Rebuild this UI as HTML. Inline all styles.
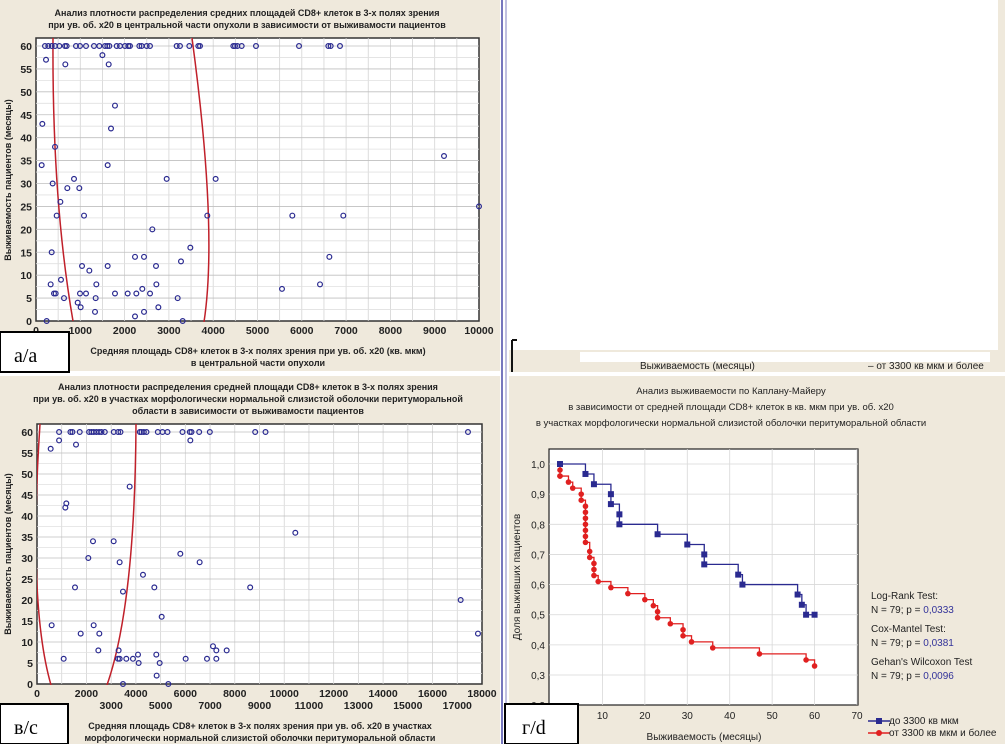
<!DOCTYPE html>
<html><head><meta charset="utf-8">
<style>
html,body{margin:0;padding:0;background:#fff;}
svg{display:block;font-family:"Liberation Sans","DejaVu Sans",sans-serif;}
.t{font-size:9px;font-weight:bold;fill:#222;}
.tk{font-size:10.5px;font-weight:bold;fill:#222;}
.km{font-size:10px;fill:#222;}
.kmt{font-size:9.5px;fill:#222;}
</style></head>
<body>
<svg id="fig" width="1005" height="744" viewBox="0 0 1005 744">
  <rect x="0" y="0" width="500" height="371" fill="#efe9dc"/>
  <rect x="0" y="376" width="500" height="368" fill="#efe9dc"/>
  <rect x="509" y="376" width="496" height="368" fill="#efe9dc"/>
  <rect x="509" y="0" width="496" height="372" fill="#fff"/>
  <rect x="998" y="0" width="7" height="372" fill="#efe9dc"/>
  <rect x="509" y="350" width="496" height="22" fill="#efe9dc"/>
  <rect x="580" y="352" width="410" height="10" fill="#fff"/>
  <path d="M512 340 V372 M512 340 H517" stroke="#111" stroke-width="2" fill="none"/>
  <text x="640" y="369" class="km" font-size="9" fill="#444">Выживаемость (месяцы)</text>
  <text x="868" y="369" class="km" font-size="9">–  от 3300 кв мкм и более</text>
  <line x1="502" y1="0" x2="502" y2="744" stroke="#4a4aa8" stroke-width="1.5"/>
  <line x1="506" y1="0" x2="506" y2="744" stroke="#8080c0" stroke-width="1"/>

  <text x="247" y="16" text-anchor="middle" class="t">Анализ плотности распределения средних площадей CD8+ клеток в 3-х полях зрения</text>
  <text x="247" y="28" text-anchor="middle" class="t">при ув. об. х20 в центральной части опухоли в зависимости от выживамости пациентов</text>
  <g id="pa"></g>
  <text x="258" y="354" text-anchor="middle" class="t">Средняя площадь CD8+ клеток в 3-х полях зрения при ув. об. х20 (кв. мкм)</text>
  <text x="258" y="366" text-anchor="middle" class="t">в центральной части опухоли</text>
  <text transform="translate(11,180) rotate(-90)" text-anchor="middle" class="t">Выживаемость пациентов (месяцы)</text>

  <text x="248" y="390" text-anchor="middle" class="t">Анализ плотности распределения средней площади CD8+ клеток в 3-х полях зрения</text>
  <text x="248" y="402" text-anchor="middle" class="t">при ув. об. х20 в участках морфологически нормальной слизистой оболочки перитуморальной</text>
  <text x="248" y="414" text-anchor="middle" class="t">области в зависимости от выживамости пациентов</text>
  <g id="pc"></g>
  <text x="260" y="729" text-anchor="middle" class="t">Средняя площадь CD8+ клеток в 3-х полях зрения при ув. об. х20 в участках</text>
  <text x="260" y="741" text-anchor="middle" class="t">морфологически нормальной слизистой оболочки перитуморальной области</text>
  <text transform="translate(11,554) rotate(-90)" text-anchor="middle" class="t">Выживаемость пациентов (месяцы)</text>

  <text x="731" y="394" text-anchor="middle" class="kmt">Анализ выживаемости по Каплану-Майеру</text>
  <text x="731" y="410" text-anchor="middle" class="kmt">в зависимости от средней площади CD8+ клеток в кв. мкм при ув. об. х20</text>
  <text x="731" y="426" text-anchor="middle" class="kmt">в участках морфологически нормальной слизистой оболочки перитуморальной области</text>
  <g id="pd"></g>
  <text x="704" y="740" text-anchor="middle" class="km">Выживаемость (месяцы)</text>
  <text transform="translate(520,577) rotate(-90)" text-anchor="middle" class="km">Доля выживших пациентов</text>
  <g>
    <text x="871" y="599" class="km">Log-Rank Test:</text>
    <text x="871" y="613" class="km">N = 79; p = <tspan fill="#33339a">0,0333</tspan></text>
    <text x="871" y="632" class="km">Cox-Mantel Test:</text>
    <text x="871" y="646" class="km">N = 79; p = <tspan fill="#33339a">0,0381</tspan></text>
    <text x="871" y="665" class="km">Gehan's Wilcoxon Test</text>
    <text x="871" y="679" class="km">N = 79; p = <tspan fill="#33339a">0,0096</tspan></text>
  </g>
  <g>
    <line x1="868" y1="721" x2="890" y2="721" stroke="#2a2a90" stroke-width="1.5"/>
    <rect x="876" y="718" width="6" height="6" fill="#2a2a90"/>
    <text x="889" y="724" class="km">до 3300 кв мкм</text>
    <line x1="868" y1="733" x2="890" y2="733" stroke="#e02020" stroke-width="1.5"/>
    <circle cx="879" cy="733" r="3" fill="#e02020"/>
    <text x="889" y="736" class="km">от 3300 кв мкм и более</text>
  </g>

  <g><rect x="0" y="332" width="69" height="40" fill="#fff" stroke="#000" stroke-width="2"/><text x="14" y="362" font-family="Liberation Serif,serif" font-size="20">а/а</text></g>
  <g><rect x="0" y="704" width="68" height="40" fill="#fff" stroke="#000" stroke-width="2"/><text x="14" y="734" font-family="Liberation Serif,serif" font-size="20">в/с</text></g>
  <g><rect x="505" y="704" width="73" height="40" fill="#fff" stroke="#000" stroke-width="2"/><text x="522" y="734" font-family="Liberation Serif,serif" font-size="20">г/d</text></g>
</svg>
<script>
const aX60 = [203,278,354,429,527,655,692,903,993,1129,1309,1430,1558,1610,1656,1821,1896,2009,2084,2122,2333,2385,2498,2573,3175,3250,3461,3664,3702,4454,4492,4545,4643,4966,5937,6599,6652,6862];
const aX = [226,662,1499,1641,1783,143,1693,429,128,1618,9210,376,858,707,978,2950,4055,550,467,1084,3867,5786,6937,10000,2626,354,3484,2235,2438,6622,1039,1618,1204,2709,3273,331,1362,2717,564,6411,5553,2400,406,444,993,1129,1783,2069,2265,2574,632,1347,3198,941,1008,2762,1332,2438,2235,241,3311];
const aY = [57,56,58,56,47,43,42,38,34,34,36,30,31,29,29,31,31,26,23,23,23,23,23,25,20,15,16,14,14,14,12,12,11,12,13,8,8,8,9,8,7,7,6,6,6,6,6,6,6,6,5,5,5,4,3,3,2,2,1,0,0];
const aXTicks = [0,1000,2000,3000,4000,5000,6000,7000,8000,9000,10000];
const yTicks = [0,5,10,15,20,25,30,35,40,45,50,55,60];

const cX60 = [893,1352,1433,1729,2107,2202,2296,2404,2512,2607,2742,3106,3282,3377,4159,4227,4321,4429,4887,5076,5278,5885,6181,6249,6560,6991,8825,9243,17433];
const cX = [553,893,1578,6202,3748,1186,1146,10449,2265,3101,2076,3343,5797,6579,4287,1537,4746,8623,3478,17137,593,2292,5043,1767,2521,17837,2481,3302,7119,7254,7672,1079,3275,3343,3613,3882,4085,4826,6013,6876,7254,4112,4962,4840,3478,5312];
const cY = [56,58,57,58,47,43,42,36,34,34,30,29,31,29,26,23,23,23,22,20,14,14,16,12,12,12,8,8,9,8,8,6,6,6,6,6,7,7,6,6,6,5,5,2,0,0];
const cXTicks = [0,2000,4000,6000,8000,10000,12000,14000,16000,18000];
const cXTicks2 = [3000,5000,7000,9000,11000,13000,15000,17000];

const blueT = [0,6,8,12,12,14,14,23,30,34,34,42,43,56,57,58,60];
const blueS = [1.0,0.967,0.933,0.9,0.867,0.833,0.8,0.767,0.733,0.7,0.667,0.633,0.6,0.567,0.533,0.5,0.5];
const redT = [0,0,0,0,2,3,5,5,6,6,6,6,6,6,6,7,7,8,8,8,9,12,16,20,22,23,23,26,29,29,31,36,47,58,60];
const redS = [1.0,0.98,0.96,0.96,0.94,0.92,0.9,0.88,0.86,0.84,0.82,0.8,0.78,0.76,0.74,0.71,0.69,0.67,0.65,0.63,0.61,0.59,0.57,0.55,0.53,0.51,0.49,0.47,0.45,0.43,0.41,0.39,0.37,0.35,0.33];
const kmXTicks = [10,20,30,40,50,60,70];
const kmYTicks = [0.2,0.3,0.4,0.5,0.6,0.7,0.8,0.9,1.0];
const kmYLabels = ["0,2","0,3","0,4","0,5","0,6","0,7","0,8","0,9","1,0"];

const NS="http://www.w3.org/2000/svg";
function mk(tag, attrs, parent){const e=document.createElementNS(NS,tag);for(const k in attrs)e.setAttribute(k,attrs[k]);parent.appendChild(e);return e;}

function scatter(g, cfg, x60, xs, ys, xt, prefix){
  const sx=v=>cfg.x0+(v-cfg.xmin)/(cfg.xmax-cfg.xmin)*(cfg.x1-cfg.x0);
  const sy=v=>cfg.y0-(v/60)*(cfg.y0-cfg.y60);
  const bg=mk('rect',{x:cfg.x0,y:cfg.top,width:cfg.x1-cfg.x0,height:cfg.y0-cfg.top,fill:'#fff',stroke:'#333','stroke-width':1.5},g);
  
  
  const step=(cfg.xmax-cfg.xmin)/(xt.length-1)/2;
  for(let v=cfg.xmin+step; v<cfg.xmax; v+=step){
    const l=mk('line',{x1:sx(v),x2:sx(v),y1:cfg.top,y2:cfg.y0,stroke:'#d4d4d4','stroke-width':0.8},g);
    
    
  }
  yTicks.forEach(v=>{
    for(const w of [v, v+2.5]){ if(w>60||w===0) continue;
      const l=mk('line',{x1:cfg.x0,x2:cfg.x1,y1:sy(w),y2:sy(w),stroke:w===v?'#bfbfbf':'#e0e0e0','stroke-width':0.8},g);
      
      
    }
    const t=mk('text',{x:cfg.x0-4,y:sy(v)+4,'text-anchor':'end',class:'tk'},g);
    t.textContent=v;
    
    
  });
  xt.forEach(v=>{
    const t=mk('text',{x:sx(v),y:cfg.y0+13,'text-anchor':'middle',class:'tk'},g);
    t.textContent=v;
    
    
  });
  const clipId=prefix+'clip';
  const cp=mk('clipPath',{id:clipId},g);
  mk('rect',{x:cfg.x0,y:cfg.top,width:cfg.x1-cfg.x0,height:cfg.y0-cfg.top+1},cp);
  cfg.arcs.forEach(d=>{
    const p=mk('path',{d:d,fill:'none',stroke:'#c0202a','stroke-width':1.5,'clip-path':'url(#'+clipId+')'},g);
    
    
  });
  const pts=x60.map(x=>[x,60]).concat(xs.map((x,i)=>[x,ys[i]]));
  pts.forEach(([x,y])=>{
    const c=mk('circle',{cx:sx(x),cy:sy(y),r:2.4,fill:'none',stroke:'#2a2a90','stroke-width':1.2},g);
    
    
  });
  return sx;
}

scatter(document.getElementById('pa'),
  {x0:36,x1:479,xmin:0,xmax:10000,top:38,y0:321,y60:46,
   arcs:['M53 38 Q52 200 73 321','M192 38 Q218 230 204 322']},
  aX60,aX,aY,aXTicks,'panel-a');

const sxc=scatter(document.getElementById('pc'),
  {x0:37,x1:482,xmin:0,xmax:18000,top:424,y0:684,y60:432,
   arcs:['M40 424 Q28 605 51 685','M136 424 Q135 605 107 685']},
  cX60,cX,cY,cXTicks,'panel-c');
const pcG=document.getElementById('pc');
cXTicks2.forEach(v=>{
  const t=mk('text',{x:sxc(v),y:709,'text-anchor':'middle',class:'tk'},pcG);
  t.textContent=v;
  
  
});

(function(){
  const g=document.getElementById('pd');
  const X0=549,X1=858,TOP=449,BOT=705;
  const sx=t=>560+t*(857-560)/70;
  const sy=s=>675-(s-0.3)*301.4;
  const bg=mk('rect',{x:X0,y:TOP,width:X1-X0,height:BOT-TOP,fill:'#fff',stroke:'#222','stroke-width':1.2},g);
  
  
  kmYTicks.forEach((v,i)=>{
    if(v>0.25){
      const l=mk('line',{x1:X0,x2:X1,y1:sy(v),y2:sy(v),stroke:'#d8d8d8','stroke-width':0.8},g);
      
      
    }
    const t=mk('text',{x:X0-4,y:sy(v)+4,'text-anchor':'end',class:'km'},g);
    t.textContent=kmYLabels[i];
    
    
  });
  kmXTicks.forEach(v=>{
    const l=mk('line',{x1:sx(v),x2:sx(v),y1:TOP,y2:BOT,stroke:'#d8d8d8','stroke-width':0.8},g);
    
    
    const t=mk('text',{x:sx(v),y:BOT+14,'text-anchor':'middle',class:'km'},g);
    t.textContent=v;
    
    
  });
  function curve(T,S,color,shape,name){
    let d='M'+sx(T[0])+' '+sy(S[0]);
    for(let i=1;i<T.length;i++){ d+=' H'+sx(T[i])+' V'+sy(S[i]); }
    const p=mk('path',{d:d,fill:'none',stroke:color,'stroke-width':1.3},g);
    
    
    T.forEach((t,i)=>{
      let m;
      if(shape==='sq') m=mk('rect',{x:sx(t)-3,y:sy(S[i])-3,width:6,height:6,fill:color},g);
      else m=mk('circle',{cx:sx(t),cy:sy(S[i]),r:2.8,fill:color},g);
      
      
    });
  }
  curve(redT,redS,'#e02020','ci','km-red');
  curve(blueT,blueS,'#2a2a90','sq','km-blue');
})();
</script>
</body></html>
